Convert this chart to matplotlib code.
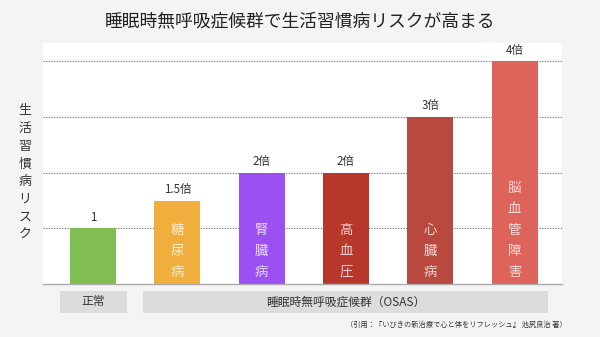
import matplotlib
matplotlib.use("Agg")
import matplotlib.pyplot as plt
from matplotlib.patches import Rectangle

plt.rcParams['font.family'] = ['Noto Sans CJK JP', 'DejaVu Sans']

categories = ["正常", "糖尿病", "腎臓病", "高血圧", "心臓病", "脳血管障害"]
inner_labels = ["", "糖尿病", "腎臓病", "高血圧", "心臓病", "脳血管障害"]
values = [1, 1.5, 2, 2, 3, 4]
value_labels = ["1", "1.5倍", "2倍", "2倍", "3倍", "4倍"]
colors = ["#80bd52", "#f0ae3c", "#9b50f2", "#b7372a", "#b9483e", "#de635b"]
title = "睡眠時無呼吸症候群で生活習慣病リスクが高まる"
ylabel = "生活習慣病リスク"
group_labels = ["正常", "睡眠時無呼吸症候群（OSAS）"]
citation = "（引用：『いびきの新治療で心と体をリフレッシュ』 池尻良治 著）"

W, H = 600, 337
fig = plt.figure(figsize=(6, 3.37), dpi=100)
fig.patch.set_facecolor("#f4f4f4")
ax = fig.add_axes([43 / W, 53 / H, (562 - 43) / W, (284 - 43) / H])
ax.set_facecolor("white")

x = list(range(len(values)))
bars = ax.bar(x, values, width=0.546, color=colors, zorder=3)
ax.set_xlim(-0.593, 5.563)
ax.set_ylim(0, 4.33)

for yv in [1, 2, 3, 4]:
    ax.axhline(yv, color="#777777", lw=0.8, ls=(0, (1.2, 1.2)), zorder=1)
ax.axhline(0, color="#aaaaaa", lw=1.0, zorder=4, clip_on=False)

for s in ax.spines.values():
    s.set_visible(False)
ax.set_xticks([])
ax.set_yticks([])

# value labels
for xi, v, lab in zip(x, values, value_labels):
    ax.annotate(lab, (xi, v), xytext=(0, 8), textcoords="offset points",
                ha="center", va="center", fontsize=8.3, color="#333333", zorder=5)

# inner vertical labels
for xi, lab in zip(x, inner_labels):
    n = len(lab)
    for k, ch in enumerate(lab):
        off = 8.6 + (n - 1 - k) * 15.1
        ax.annotate(ch, (xi, 0), xytext=(0, off), textcoords="offset points",
                    ha="center", va="center", fontsize=9.7, color="white",
                    alpha=0.78, zorder=5)

# group boxes
box_spans = [(-0.391, 0.403), (0.593, 5.397)]
y0, y1 = -0.52, -0.12
for (a, b), lab in zip(box_spans, group_labels):
    ax.add_patch(Rectangle((a, y0), b - a, y1 - y0, facecolor="#dcdcdc",
                           edgecolor="none", clip_on=False, zorder=2))
    ax.text((a + b) / 2, (y0 + y1) / 2, lab, ha="center", va="center",
            fontsize=8.5, color="#333333", clip_on=False)

# title
fig.text(0.5, 1 - 21 / H, title, ha="center", va="center", fontsize=12.8, color="#222222")

# vertical y label
n = len(ylabel)
for k, ch in enumerate(ylabel):
    yp = 111 + k * 17.7
    fig.text(25 / W, 1 - yp / H, ch, ha="center", va="center", fontsize=9.3, color="#333333")

# citation
fig.text(567 / W, 1 - 325 / H, citation, ha="right", va="center", fontsize=5.2, color="#333333")

fig.savefig("out.png", dpi=100, facecolor=fig.get_facecolor())
